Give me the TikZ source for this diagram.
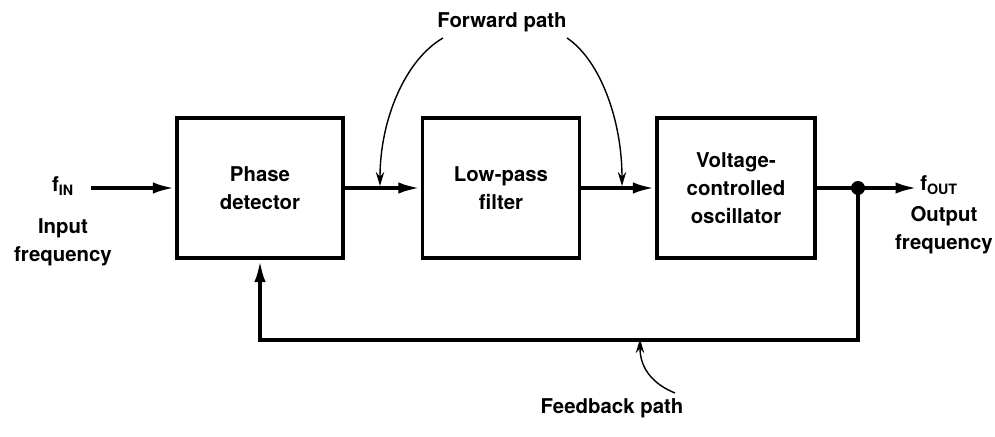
\documentclass[tikz,border=0pt]{standalone}
\usepackage{fontspec}
\setmainfont{TeX Gyre Heros}
\usetikzlibrary{arrows.meta}

\begin{document}
\begin{tikzpicture}[x=0.025cm,y=0.025cm,
    font=\fontsize{14.5}{20}\selectfont\bfseries,
    block/.style={draw,line width=2.2pt,minimum height=3.5cm,align=center},
    signal/.style={line width=2.8pt,-{Latex[length=16pt,width=8pt]}},
    pointer/.style={line width=1pt,-{Stealth[length=10pt,width=6pt]}},
    txt/.style={align=center,inner sep=0pt}]
    \useasboundingbox (0,0) rectangle (995,436);

    \node [block,minimum width=4.15cm] (pd) at (260,248) {Phase\\detector};
    \node [block,minimum width=3.925cm] (lpf) at (501,248) {Low-pass\\filter};
    \node [block,minimum width=3.95cm] (vco) at (736,248) {Voltage-\\controlled\\oscillator};

    % input side
    \coordinate (in) at (91,248);
    \node [txt] (fin) at (63,250) {f\textsubscript{IN}};
    \node [txt] (inlbl) at (63,194) {Input\\frequency};

    % output side
    \coordinate (dot) at (858,248);
    \coordinate (out) at (918,248);
    \node [txt,anchor=west] (fout) at (920,251) {f\textsubscript{OUT}};
    \node [txt] (outlbl) at (944,206) {Output\\frequency};

    \draw [signal] (in) -- (pd);
    \draw [signal] (pd) -- (lpf);
    \draw [signal] (lpf) -- (vco);
    \draw [signal] (vco) -- (out);
    \fill (dot) circle (7);

    % feedback loop
    \coordinate (fbr) at (858,96);
    \coordinate (fbl) at (260,96);
    \draw [signal] (dot) -- (fbr) -- (fbl) -- (pd.south);

    % forward path label and pointers
    \node [txt] (fwd) at (502,414) {Forward path};
    \coordinate (fwda) at (380,250);
    \coordinate (fwdb) at (622,250);
    \draw [pointer] (443,398) .. controls (405,376) and (380,316) .. (fwda);
    \draw [pointer] (567,398) .. controls (600,376) and (622,316) .. (fwdb);

    % feedback path label and pointer
    \node [txt] (fbk) at (612,28) {Feedback path};
    \coordinate (fbka) at (640,97);
    \draw [pointer] (675,43) .. controls (655,51) and (640,66) .. (fbka);
\end{tikzpicture}
\end{document}
